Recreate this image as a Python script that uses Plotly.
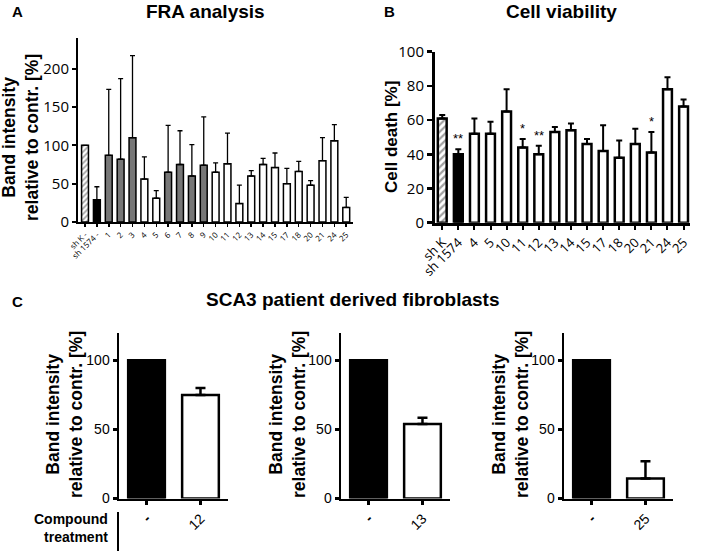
import plotly.graph_objects as go

# ---------------- data ----------------
a_labels = ["sh K -", "sh 1574 -", "1", "2", "3", "4", "5", "6", "7", "8", "9", "10",
            "11", "12", "13", "14", "15", "17", "18", "20", "21", "24", "25"]
a_values = [100, 29, 87, 82, 110, 56, 31, 65, 75, 60, 74, 65, 76, 24, 60, 75, 71, 50, 66, 48, 80, 106, 19]
a_errors = [0, 17, 86, 105, 107, 29, 10, 61, 44, 41, 63, 12, 40, 24, 7, 8, 19, 20, 13, 6, 30, 21, 13]
a_groups = ["control", "knockdown", "gray", "gray", "gray", "white", "white", "gray", "gray", "gray",
            "gray", "white", "white", "white", "white", "white", "white", "white", "white", "white",
            "white", "white", "white"]

b_labels = ["sh K", "sh 1574", "4", "5", "10", "11", "12", "13", "14", "15", "17", "18", "20", "21", "24", "25"]
b_values = [61, 40, 52, 52, 65, 44, 40, 53, 54, 46, 42, 38, 46, 41, 78, 68]
b_errors = [2, 3, 9, 7, 13, 5, 5, 3, 4, 3, 15, 10, 9, 12, 7, 4]
b_groups = ["control", "knockdown"] + ["white"] * 14
b_sig = ["", "**", "", "", "", "*", "**", "", "", "", "", "", "", "*", "", ""]

c_compounds = ["12", "13", "25"]
c_ctrl_label = "-"
c_ctrl = [100, 100, 100]
c_values = [75, 54, 14.5]
c_errors = [5, 4.5, 12.5]

# ---------------- styling ----------------
FILL = {"control": "white", "knockdown": "black", "gray": "#777777", "white": "white"}
PAT = {"control": "/", "knockdown": "", "gray": "", "white": ""}
FONT = "Liberation Sans, Arial, sans-serif"
TFONT = "Open Sans, sans-serif"
W, H = 703, 559


def px(x):
    return x / W


def py(y):
    return 1 - y / H


fig = go.Figure()

# Panel A
fig.add_trace(go.Bar(
    x=list(range(len(a_labels))), y=a_values, width=0.58,
    marker=dict(color=[FILL[g] for g in a_groups],
                line=dict(color="black", width=1.5),
                pattern=dict(shape=[PAT[g] for g in a_groups], fgcolor="black",
                             bgcolor="white", size=4, solidity=0.45)),
    error_y=dict(type="data", symmetric=False, array=a_errors,
                 arrayminus=[0] * len(a_errors), color="black", thickness=1.3, width=2.5),
    xaxis="x", yaxis="y", showlegend=False, hoverinfo="skip"))

# Panel B
fig.add_trace(go.Bar(
    x=list(range(len(b_labels))), y=b_values, width=0.55,
    marker=dict(color=[FILL[g] for g in b_groups],
                line=dict(color="black", width=2.5),
                pattern=dict(shape=[PAT[g] for g in b_groups], fgcolor="black",
                             bgcolor="white", size=5, solidity=0.45)),
    error_y=dict(type="data", symmetric=False, array=b_errors,
                 arrayminus=[0] * len(b_errors), color="black", thickness=2, width=3),
    xaxis="x2", yaxis="y2", showlegend=False, hoverinfo="skip"))

for i, s in enumerate(b_sig):
    if s:
        fig.add_annotation(x=i, y=b_values[i] + b_errors[i] + 0.5, xref="x2", yref="y2",
                           text=s, showarrow=False, yanchor="bottom",
                           font=dict(family=FONT, size=13, color="black"))

# Panel C
c_domains = [(119, 228), (341, 450), (564, 673)]
for k, comp in enumerate(c_compounds):
    xa = "x%d" % (k + 3)
    ya = "y%d" % (k + 3)
    fig.add_trace(go.Bar(
        x=[0, 1], y=[c_ctrl[k], c_values[k]], width=0.68,
        marker=dict(color=["black", "white"], line=dict(color="black", width=2.5)),
        error_y=dict(type="data", symmetric=False, array=[0, c_errors[k]],
                     arrayminus=[0, 0], color="black", thickness=2.5, width=5),
        xaxis=xa, yaxis=ya, showlegend=False, hoverinfo="skip"))

axis_common = dict(showgrid=False, zeroline=False, showline=True, linecolor="black",
                   ticks="outside", tickcolor="black", automargin=False)

layout = dict(width=W, height=H, margin=dict(l=0, r=0, t=0, b=0, autoexpand=False),
              plot_bgcolor="white", paper_bgcolor="white", bargap=0.4,
              font=dict(family=FONT, color="black"))

layout["xaxis"] = dict(axis_common, domain=[px(78), px(353)], range=[-0.59, 22.57],
                       tickvals=list(range(len(a_labels))), ticktext=a_labels,
                       tickangle=-45, tickfont=dict(size=8, family=TFONT), linewidth=2, ticklen=3,
                       tickwidth=1.5, anchor="y")
layout["yaxis"] = dict(axis_common, domain=[py(222), py(38)], range=[0, 240],
                       tickvals=[0, 50, 100, 150, 200], tickfont=dict(size=15, family=TFONT),
                       linewidth=2, ticklen=4, tickwidth=2, anchor="x")
layout["xaxis2"] = dict(axis_common, domain=[px(435), px(690)], range=[-0.45, 15.4],
                        tickvals=list(range(len(b_labels))), ticktext=b_labels,
                        tickangle=-45, tickfont=dict(size=13, family=TFONT),
                        linewidth=3, ticklen=4, tickwidth=2, anchor="y2")
layout["yaxis2"] = dict(axis_common, domain=[py(222.7), py(51.7)], range=[0, 100],
                        tickvals=[0, 20, 40, 60, 80, 100], tickfont=dict(size=15, family=TFONT),
                        linewidth=3, ticklen=5, tickwidth=2.5, anchor="x2")
for k, (x0, x1) in enumerate(c_domains):
    n = k + 3
    layout["xaxis%d" % n] = dict(axis_common, domain=[px(x0), px(x1)], range=[-0.51, 1.51],
                                 tickvals=[0, 1], ticktext=["<b>%s</b>" % c_ctrl_label, c_compounds[k]],
                                 tickangle=-45, tickfont=dict(size=14, family=FONT),
                                 linewidth=2.5, ticklen=4, tickwidth=2.5, anchor="y%d" % n)
    layout["yaxis%d" % n] = dict(axis_common, domain=[py(498.5), py(332.7)], range=[0, 120],
                                 tickvals=[0, 50, 100], tickfont=dict(size=14, family=FONT),
                                 linewidth=2.5, ticklen=4, tickwidth=2.5, anchor="x%d" % n)

fig.update_layout(**layout)


def ann(x, y, text, size, angle=0, xanchor="center", align="center"):
    fig.add_annotation(x=px(x), y=py(y), xref="paper", yref="paper", text=text,
                       showarrow=False, textangle=angle, xanchor=xanchor, yanchor="middle",
                       align=align, font=dict(family=FONT, size=size, color="black"))


ann(17, 11, "<b>A</b>", 15)
ann(205, 11, "<b>FRA analysis</b>", 19)
ann(389, 11, "<b>B</b>", 15)
ann(561, 11, "<b>Cell viability</b>", 19)
ann(17, 301, "<b>C</b>", 15)
ann(353, 299, "<b>SCA3 patient derived fibroblasts</b>", 19)

ann(20, 138, "<b>Band intensity<br>relative to contr. [%]</b>", 17.5, angle=-90)
ann(392, 137, "<b>Cell death [%]</b>", 17, angle=-90)
for xc in (64, 287, 510):
    ann(xc, 415, "<b>Band intensity<br>relative to contr. [%]</b>", 17.5, angle=-90)

fig.add_annotation(x=px(110), y=py(528), xref="paper", yref="paper",
                   text="<b>Compound<br>treatment</b>", showarrow=False, xanchor="right",
                   yanchor="middle", align="right",
                   font=dict(family=FONT, size=14, color="black"))
fig.add_shape(type="line", xref="paper", yref="paper", x0=px(118), x1=px(118),
              y0=py(512), y1=py(551), line=dict(color="black", width=2))

fig.write_html("out.html", config={"displayModeBar": False, "staticPlot": True},
               post_script="document.body.style.margin='0';document.body.style.overflow='hidden';")
